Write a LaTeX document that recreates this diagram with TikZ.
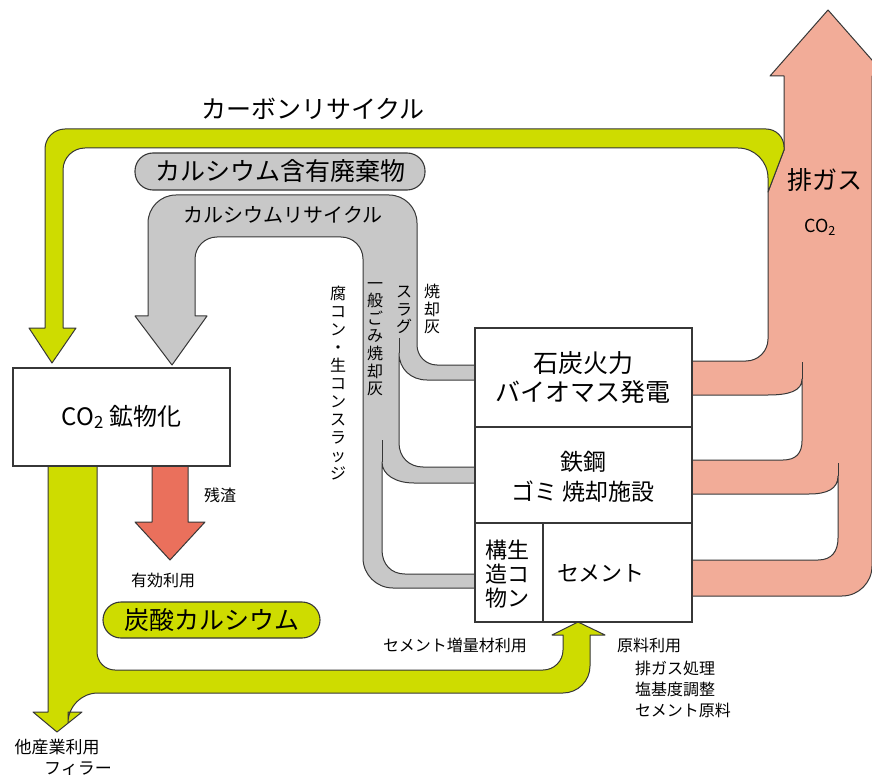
\documentclass[tikz,border=0pt]{standalone}
\usepackage{fontspec}
\newfontfamily\jp{Noto Sans CJK JP}
\definecolor{salmon}{RGB}{242,172,152}
\definecolor{ygreen}{RGB}{206,220,0}
\definecolor{lgray}{RGB}{200,200,200}
\definecolor{redarr}{RGB}{234,112,92}
\definecolor{outc}{RGB}{55,55,55}
\begin{document}
\begin{tikzpicture}[x=1pt,y=-1pt,
  outl/.style={draw=outc, line width=1pt, line join=round},
  boxst/.style={draw=outc, line width=1.1pt, fill=white, inner sep=0pt},
  pill/.style={draw=outc, line width=1.1pt, inner sep=0pt},
  tbig/.style={font=\jp\fontsize{25}{29}\selectfont, inner sep=0pt, align=center},
  tmid/.style={font=\jp\fontsize{20}{24}\selectfont, inner sep=0pt, align=center},
  tsmall/.style={font=\jp\fontsize{16}{21}\selectfont, inner sep=0pt},
  tvert/.style={font=\jp\fontsize{16}{17.6}\selectfont, inner sep=0pt, align=center}
]
\useasboundingbox (0,0) rectangle (872,775);
\clip (0,0) rectangle (872,775);
\fill[white] (0,0) rectangle (872,775);

% ---- gray calcium recycle tube ----
\filldraw[outl, fill=lgray] (172,365) -- (135,316) -- (148,316)
  [rounded corners=28pt] -- (148,195) -- (417,195)
  [rounded corners=20pt] -- (417,365)
  [sharp corners] -- (475,365) -- (475,588)
  [rounded corners=30pt] -- (363,588)
  [rounded corners=22pt] -- (363,237) -- (195,237)
  [sharp corners] -- (195,316) -- (207,316) -- cycle;
% bays between the branches
\filldraw[outl, fill=white] (475,380) -- (427,380)
  .. controls (411,380) and (399,369) .. (399,353) -- (399,443)
  .. controls (399,457) and (409,467) .. (423,467) -- (475,467);
\draw[outl] (399,338) -- (399,353);
\filldraw[outl, fill=white] (475,483) -- (414,483)
  .. controls (396,483) and (382,475) .. (382,462) -- (382,550)
  .. controls (382,564) and (391,574) .. (405,574) -- (475,574);
\draw[outl] (382,440) -- (382,462);

% ---- salmon exhaust CO2 arrow ----
\filldraw[outl, fill=salmon] (692,361)
  [rounded corners=22pt] -- (768,361)
  [sharp corners] -- (768,192) -- (784,150) -- (784,76) -- (770,76) -- (828,10) -- (886,76)
  -- (872,76)
  [rounded corners=30pt] -- (872,596)
  [sharp corners] -- (692,596) -- cycle;
\filldraw[outl, fill=white] (692,395) -- (768,395)
  .. controls (789,395) and (802,391) .. (802,379) -- (802,441)
  .. controls (802,453) and (796,460) .. (783,460) -- (692,460);
\draw[outl] (802,362) -- (802,379);
\filldraw[outl, fill=white] (692,494) -- (809,494)
  .. controls (827,494) and (838,489) .. (838,476) -- (838,538)
  .. controls (838,551) and (832,560) .. (818,560) -- (692,560);
\draw[outl] (838,463) -- (838,476);

% ---- yellow carbon recycle arrow (top) ----
\filldraw[outl, fill=ygreen] (768,192) -- (784,150)
  [rounded corners=18pt] -- (784,129)
  [rounded corners=20pt] -- (45,129)
  [sharp corners] -- (45,328) -- (29,328) -- (52,363) -- (76,328) -- (63,328)
  [rounded corners=22pt] -- (63,148)
  [rounded corners=30pt] -- (768,148)
  [sharp corners] -- (768,192) -- cycle;

% ---- yellow output arrow (bottom) ----
\filldraw[outl, fill=ygreen] (48,466) -- (48,712) -- (33,712) -- (57,732) -- (82,712)
  -- (68,712)
  [rounded corners=30pt] -- (68,693)
  [rounded corners=27pt] -- (590,693)
  [sharp corners] -- (590,635) -- (605,635) -- (578,622) -- (552,635) -- (563,635)
  [rounded corners=20pt] -- (563,670)
  [rounded corners=18pt] -- (97,670)
  [sharp corners] -- (97,466) -- cycle;

% ---- red residue arrow ----
\filldraw[outl, fill=redarr] (152,466) -- (152,522) -- (135,522) -- (170,560)
  -- (205,522) -- (188,522) -- (188,466) -- cycle;

% ---- boxes ----
\node[boxst, minimum width=217pt, minimum height=98pt, font=\jp\fontsize{24}{28}\selectfont]
  (mineral) at (121.5,417) {CO\textsubscript{2} 鉱物化};
\node[boxst, minimum width=217pt, minimum height=99pt] (coal) at (583.5,377.5) {};
\node[boxst, minimum width=217pt, minimum height=96pt] (steel) at (583.5,475) {};
\node[boxst, minimum width=68pt, minimum height=99pt] (kozo) at (509,572.5) {};
\node[boxst, minimum width=149pt, minimum height=99pt] (cement) at (617.5,572.5) {};

\node[tbig] (coalt) at (583,377.5) {石炭火力\\バイオマス発電};
\node[font=\jp\fontsize{23}{30}\selectfont, inner sep=0pt, align=center] (steelt) at (583,477) {鉄鋼\\ゴミ 焼却施設};
\node[font=\jp\fontsize{22}{24}\selectfont, inner sep=0pt, align=center] (kozot) at (507,574) {構生\\造コ\\物ン};
\node[font=\jp\fontsize{22}{26}\selectfont, inner sep=0pt] (cementt) at (601,573) {セメント};

% ---- pills ----
\node[pill, fill=lgray, rounded corners=18pt, minimum width=290pt, minimum height=37pt,
  font=\jp\fontsize{25}{29}\selectfont] (waste) at (280,171.5) {カルシウム含有廃棄物};
\node[pill, fill=ygreen, rounded corners=18pt, minimum width=217pt, minimum height=36pt,
  font=\jp\fontsize{25}{29}\selectfont] (caco3) at (211.5,620) {炭酸カルシウム};

% ---- labels ----
\node[tbig] (carbon) at (313,109) {カーボンリサイクル};
\node[tmid] (carec) at (283,215) {カルシウムリサイクル};
\node[tvert] (ash) at (432,309) {焼\\却\\灰};
\node[tvert] (slag) at (404,310) {ス\\ラ\\グ};
\node[tvert] (mswash) at (375,339) {一\\般\\ご\\み\\焼\\却\\灰};
\node[font=\jp\fontsize{16}{18}\selectfont, inner sep=0pt, align=center] (sludge) at (338,383)
  {腐\\コ\\ン\\・\\生\\コ\\ン\\ス\\ラ\\ッ\\ジ};
\node[tbig] (exh) at (825,180) {排ガス};
\node[font=\jp\fontsize{18}{22}\selectfont, inner sep=0pt] (co2) at (820,227) {CO\textsubscript{2}};
\node[tsmall] (residue) at (220,495) {残渣};
\node[tsmall] (effuse) at (163,580) {有効利用};
\node[font=\jp\fontsize{17}{21}\selectfont, inner sep=0pt] (other) at (57,747) {他産業利用};
\node[font=\jp\fontsize{17}{21}\selectfont, inner sep=0pt] (filler) at (78,769) {フィラー};
\node[tsmall] (cemadd) at (455,645) {セメント増量材利用};
\node[tsmall, anchor=west] (rawuse) at (617,645) {原料利用};
\node[tsmall, anchor=west] (r1) at (635,668) {排ガス処理};
\node[tsmall, anchor=west] (r2) at (635,689) {塩基度調整};
\node[tsmall, anchor=west] (r3) at (635,710) {セメント原料};
\end{tikzpicture}
\end{document}
